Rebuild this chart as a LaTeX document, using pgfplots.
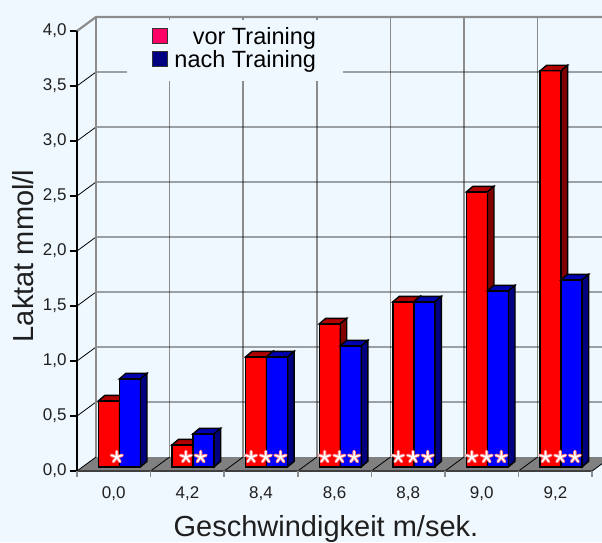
\documentclass[border=0pt]{standalone}
\usepackage{fontspec}
\setmainfont{Liberation Sans}
\usepackage{pgfplots}
\usepackage{pgfplotstable}
\pgfplotsset{compat=1.18}
\usetikzlibrary{plotmarks}
\definecolor{bgc}{HTML}{F0F8FF}
\definecolor{fr}{HTML}{FF0000}
\definecolor{tr}{HTML}{B00000}
\definecolor{sr}{HTML}{800000}
\definecolor{fb}{HTML}{0000FF}
\definecolor{tb}{HTML}{0000B0}
\definecolor{sb}{HTML}{000080}
\definecolor{legpink}{HTML}{FF0066}
\definecolor{legnavy}{HTML}{000080}
\definecolor{gridgray}{HTML}{8C8C8C}
\definecolor{floorgray}{HTML}{808080}
\definecolor{starpink}{HTML}{FF7A7A}

% Laktat (mmol/l) vor / nach Training
\pgfplotstableread{
k v    vor  nach
0 0,0  0.6  0.8
1 4,2  0.2  0.3
2 8,4  1.0  1.0
3 8,6  1.3  1.1
4 8,8  1.5  1.5
5 9,0  2.5  1.6
6 9,2  3.6  1.7
}\laktat

\newcommand{\threedbar}[6]{%
  \pgfmathsetmacro\xa{#1}%
  \pgfmathsetmacro\xb{#2}%
  \pgfmathsetmacro\xc{#2+0.088}%
  \pgfmathsetmacro\xd{#1+0.088}%
  \pgfmathsetmacro\ya{0.038}%
  \pgfmathsetmacro\yb{0.038+#3}%
  \pgfmathsetmacro\yc{0.088+#3}%
  \pgfmathsetmacro\yd{0.088}%
  \addplot[forget plot, fill=#4, draw=black, line width=1.4pt] coordinates {(\xa,\ya) (\xb,\ya) (\xb,\yb) (\xa,\yb)} -- cycle;
  \addplot[forget plot, fill=#5, draw=black, line width=1.4pt] coordinates {(\xa,\yb) (\xb,\yb) (\xc,\yc) (\xd,\yc)} -- cycle;
  \addplot[forget plot, fill=#6, draw=black, line width=1.4pt] coordinates {(\xb,\ya) (\xc,\yd) (\xc,\yc) (\xb,\yb)} -- cycle;
}

\begin{document}
\begin{tikzpicture}
\fill[bgc] (-77pt,-71pt) rectangle (525pt,471pt);
\begin{axis}[
  at={(0,0)}, anchor=south west,
  scale only axis, width=525pt, height=454pt,
  xmin=-0.5, xmax=6.633, ymin=0, ymax=4.127,
  clip=false,
  axis line style={draw=none},
  tick pos=left, tick align=outside,
  xtick={0,...,6},
  xticklabels={{0,0},{4,2},{8,4},{8,6},{8,8},{9,0},{9,2}},
  xtick style={draw=none},
  ytick={0,0.5,...,4},
  yticklabels={{0,0},{0,5},{1,0},{1,5},{2,0},{2,5},{3,0},{3,5},{4,0}},
  ytick style={draw=black, line width=1.1pt},
  major tick length=7pt,
  ticklabel style={font=\fontsize{17}{17}\selectfont, text=black!88},
  xticklabel style={yshift=-5pt},
  xlabel={Geschwindigkeit m/sek.},
  ylabel={Laktat mmol/l},
  every axis x label/.style={at={(axis cs:2.883,-0.592)}, anchor=base, font=\fontsize{29}{29}\selectfont, text=black!88},
  every axis y label/.style={at={(axis cs:-1.234,1.955)}, anchor=center, rotate=90, font=\fontsize{29}{29}\selectfont, text=black!88},
  legend cell align=right,
  legend style={at={(0.4552,0.9762)}, anchor=north east, draw=none, fill=none,
    inner sep=0pt, outer sep=0pt, column sep=6.5pt, row sep=4.4pt,
    nodes={inner sep=0pt}, font=\fontsize{23.5}{23.5}\selectfont},
]
% back wall vertical lines
\pgfplotsforeachungrouped \j in {1,...,6}{%
  \pgfmathsetmacro\gx{\j-0.242}%
  \addplot[forget plot, draw=gridgray, line width=1.6pt] coordinates {(\gx,0.127) (\gx,4.127)};
}
% horizontal gridlines (left wall + back wall)
\pgfplotsforeachungrouped \j in {1,...,7}{%
  \pgfmathsetmacro\fy{0.5*\j}%
  \pgfmathsetmacro\gy{0.5*\j+0.127}%
  \addplot[forget plot, draw=black, line width=0.8pt] coordinates {(-0.5,\fy) (-0.242,\gy) (6.633,\gy)};
}
% wall edges
\addplot[forget plot, draw=gridgray, line width=2.2pt] coordinates {(-0.5,4) (-0.242,4.127) (6.633,4.127)};
\addplot[forget plot, draw=gridgray, line width=2.2pt] coordinates {(-0.242,0.127) (-0.242,4.127)};
% legend background
\addplot[forget plot, fill=bgc, draw=none] coordinates {(0.179,3.545) (3.114,3.545) (3.114,4.10) (0.179,4.10)} -- cycle;
% floor
\addplot[forget plot, fill=floorgray, draw=none] coordinates {(-0.5,0) (6.5,0) (6.633,0.066) (6.633,0.127) (-0.242,0.127)} -- cycle;
\pgfplotsforeachungrouped \j in {0,...,6}{%
  \pgfmathsetmacro\fx{\j-0.5}%
  \pgfmathsetmacro\bx{\j-0.242}%
  \addplot[forget plot, draw=black, line width=0.8pt] coordinates {(\fx,0) (\bx,0.127)};
}
\addplot[forget plot, draw=black, line width=0.8pt] coordinates {(6.5,0) (6.633,0.066)};
\addplot[forget plot, draw=black!75, line width=1.6pt] coordinates {(-0.5,0) (6.5,0)};
% category boundary ticks
\pgfplotsforeachungrouped \j in {0,...,7}{%
  \pgfmathsetmacro\fx{\j-0.5}%
  \addplot[forget plot, draw=gridgray, line width=1.5pt] coordinates {(\fx,0) (\fx,-0.055)};
}
% y axis line
\addplot[forget plot, draw=black, line width=1.4pt] coordinates {(-0.5,0) (-0.5,4)};
% bars
\pgfplotsforeachungrouped \k in {0,...,6}{%
  \pgfplotstablegetelem{\k}{vor}\of\laktat \let\rv=\pgfplotsretval
  \pgfplotstablegetelem{\k}{nach}\of\laktat \let\nv=\pgfplotsretval
  \threedbar{\k-0.208}{\k+0.077}{\rv}{fr}{tr}{sr}
  \threedbar{\k+0.077}{\k+0.363}{\nv}{fb}{tb}{sb}
}
% significance asterisks
\addplot[forget plot, only marks, mark=star, mark size=5.7pt, mark options={draw=starpink, line width=3.4pt, line cap=round}] coordinates {
 (0.04,0.127) (0.98,0.127) (1.18,0.127)
 (1.865,0.127) (2.065,0.127) (2.265,0.127)
 (2.865,0.127) (3.065,0.127) (3.265,0.127)
 (3.865,0.127) (4.065,0.127) (4.265,0.127)
 (4.865,0.127) (5.065,0.127) (5.265,0.127)
 (5.865,0.127) (6.065,0.127) (6.265,0.127)};
\addplot[forget plot, only marks, mark=star, mark size=5.7pt, mark options={draw=white, line width=1.6pt, line cap=round}] coordinates {
 (0.04,0.127) (0.98,0.127) (1.18,0.127)
 (1.865,0.127) (2.065,0.127) (2.265,0.127)
 (2.865,0.127) (3.065,0.127) (3.265,0.127)
 (3.865,0.127) (4.065,0.127) (4.265,0.127)
 (4.865,0.127) (5.065,0.127) (5.265,0.127)
 (5.865,0.127) (6.065,0.127) (6.265,0.127)};
% legend
\addlegendimage{legend image code/.code={\draw[fill=legpink, draw=black!80, line width=0.6pt] (0pt,-6.1pt) rectangle (15pt,8.9pt);}}
\addlegendentry{vor Training}
\addlegendimage{legend image code/.code={\draw[fill=legnavy, draw=black!80, line width=0.6pt] (0pt,-6.1pt) rectangle (15pt,8.9pt);}}
\addlegendentry{nach Training}
\end{axis}
\pgfresetboundingbox
\path[use as bounding box] (-77pt,-71pt) rectangle (525pt,471pt);
\end{tikzpicture}
\end{document}
